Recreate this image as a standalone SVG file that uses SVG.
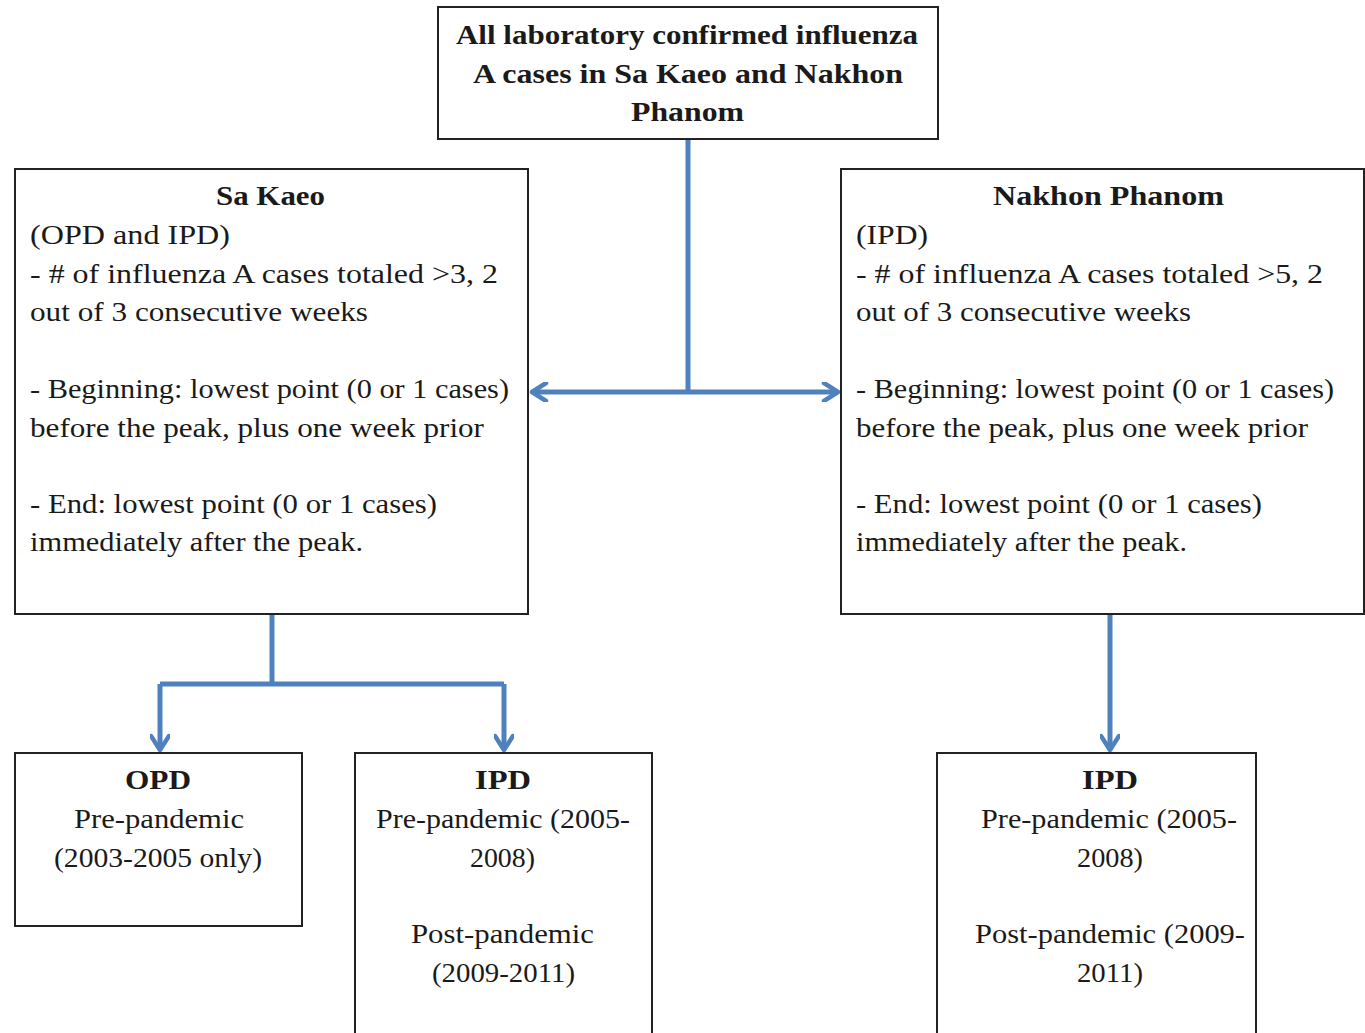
<svg xmlns="http://www.w3.org/2000/svg" width="1365" height="1033" viewBox="0 0 1365 1033">
<style>
.box{fill:#fff;stroke:#222;stroke-width:2}
.t{font-family:"Liberation Serif","DejaVu Serif",serif;font-size:27px;fill:#1a1a1a}
.b{font-weight:bold}
.c{text-anchor:middle}
.con{fill:none;stroke:#4f81bd;stroke-width:5}
</style>
<defs>
<marker id="arr" viewBox="0 0 20 20" refX="17" refY="10" markerWidth="20" markerHeight="20" markerUnits="userSpaceOnUse" orient="auto-start-reverse">
<path d="M3,1 L17,10 L3,19" fill="none" stroke="#4f81bd" stroke-width="4.5" stroke-linecap="round" stroke-linejoin="round"/>
</marker>
</defs>
<rect width="1365" height="1033" fill="#fff"/>
<g id="connectors">
<path class="con" d="M688,139 V392"/>
<path class="con" d="M532,392 H838" marker-start="url(#arr)" marker-end="url(#arr)"/>
<path class="con" d="M272,614 V684"/>
<path class="con" d="M160,684 H504"/>
<path class="con" d="M160,684 V750" marker-end="url(#arr)"/>
<path class="con" d="M504,684 V750" marker-end="url(#arr)"/>
<path class="con" d="M1110,614 V750" marker-end="url(#arr)"/>
</g>
<g id="top">
<rect class="box" x="438" y="7" width="500" height="132"/>
<text class="t b" x="456" y="44" textLength="462" lengthAdjust="spacingAndGlyphs">All laboratory  confirmed  influenza</text>
<text class="t b" x="473" y="83" textLength="430" lengthAdjust="spacingAndGlyphs">A cases in Sa Kaeo and Nakhon</text>
<text class="t b" x="631" y="121" textLength="113" lengthAdjust="spacingAndGlyphs">Phanom</text>
</g>
<g id="sakaeo">
<rect class="box" x="15" y="169" width="513" height="445"/>
<text class="t b" x="216" y="205" textLength="109" lengthAdjust="spacingAndGlyphs">Sa Kaeo</text>
<text class="t" x="30" y="244" textLength="200" lengthAdjust="spacingAndGlyphs">(OPD and IPD)</text>
<text class="t" x="30" y="283" textLength="468" lengthAdjust="spacingAndGlyphs">- # of influenza A cases totaled &gt;3, 2</text>
<text class="t" x="30" y="321" textLength="338" lengthAdjust="spacingAndGlyphs">out of  3 consecutive weeks</text>
<text class="t" x="30" y="398" textLength="479" lengthAdjust="spacingAndGlyphs">- Beginning: lowest point (0 or 1 cases)</text>
<text class="t" x="30" y="437" textLength="454" lengthAdjust="spacingAndGlyphs">before the peak, plus one week prior</text>
<text class="t" x="30" y="513" textLength="407" lengthAdjust="spacingAndGlyphs">- End: lowest point (0 or 1 cases)</text>
<text class="t" x="30" y="551" textLength="333" lengthAdjust="spacingAndGlyphs">immediately after the peak.</text>
</g>
<g id="nakhon">
<rect class="box" x="841" y="169" width="523" height="445"/>
<text class="t b" x="993" y="205" textLength="231" lengthAdjust="spacingAndGlyphs">Nakhon Phanom</text>
<text class="t" x="856" y="244" textLength="72" lengthAdjust="spacingAndGlyphs">(IPD)</text>
<text class="t" x="856" y="283" textLength="467" lengthAdjust="spacingAndGlyphs">- # of influenza A cases totaled &gt;5, 2</text>
<text class="t" x="856" y="321" textLength="335" lengthAdjust="spacingAndGlyphs">out of  3 consecutive weeks</text>
<text class="t" x="856" y="398" textLength="478" lengthAdjust="spacingAndGlyphs">- Beginning: lowest point (0 or 1 cases)</text>
<text class="t" x="856" y="437" textLength="452" lengthAdjust="spacingAndGlyphs">before the peak, plus one week prior</text>
<text class="t" x="856" y="513" textLength="406" lengthAdjust="spacingAndGlyphs">- End: lowest point (0 or 1 cases)</text>
<text class="t" x="856" y="551" textLength="331" lengthAdjust="spacingAndGlyphs">immediately after the peak.</text>
</g>
<g id="opd">
<rect class="box" x="15" y="753" width="287" height="173"/>
<text class="t b" x="125" y="789" textLength="66" lengthAdjust="spacingAndGlyphs">OPD</text>
<text class="t" x="74" y="828" textLength="170" lengthAdjust="spacingAndGlyphs">Pre-pandemic</text>
<text class="t" x="54" y="867" textLength="208" lengthAdjust="spacingAndGlyphs">(2003-2005  only)</text>
</g>
<g id="ipd-sakaeo">
<rect class="box" x="355" y="753" width="297" height="300"/>
<text class="t b" x="475" y="789" textLength="56" lengthAdjust="spacingAndGlyphs">IPD</text>
<text class="t" x="376" y="828" textLength="254" lengthAdjust="spacingAndGlyphs">Pre-pandemic (2005-</text>
<text class="t" x="470" y="867" textLength="65" lengthAdjust="spacingAndGlyphs">2008)</text>
<text class="t" x="411" y="943" textLength="183" lengthAdjust="spacingAndGlyphs">Post-pandemic</text>
<text class="t" x="432" y="982" textLength="143" lengthAdjust="spacingAndGlyphs">(2009-2011)</text>
</g>
<g id="ipd-nakhon">
<rect class="box" x="937" y="753" width="319" height="300"/>
<text class="t b" x="1082" y="789" textLength="56" lengthAdjust="spacingAndGlyphs">IPD</text>
<text class="t" x="981" y="828" textLength="256" lengthAdjust="spacingAndGlyphs">Pre-pandemic (2005-</text>
<text class="t" x="1077" y="867" textLength="66" lengthAdjust="spacingAndGlyphs">2008)</text>
<text class="t" x="975" y="943" textLength="270" lengthAdjust="spacingAndGlyphs">Post-pandemic (2009-</text>
<text class="t" x="1077" y="982" textLength="66" lengthAdjust="spacingAndGlyphs">2011)</text>
</g>
</svg>
